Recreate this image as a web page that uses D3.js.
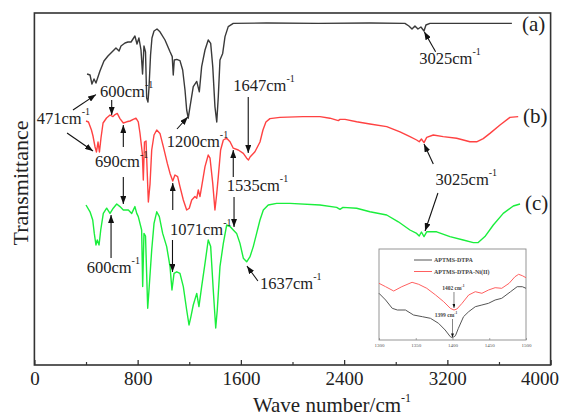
<!DOCTYPE html>
<html lang="en">
<head>
<meta charset="utf-8"/>
<title>FTIR spectra</title>
<script src="https://d3js.org/d3.v7.min.js"></script>
<style>
  body { margin: 0; background: #fff; }
  svg { display: block; font-family: "Liberation Serif", "Times New Roman", serif; }
</style>
</head>
<body>
<div id="chart"></div>
<script>
// wavenumber (cm-1) / transmittance (a.u.)
const xTicks = [0, 800, 1600, 2400, 3200, 4000];
const xMinorTicks = [400, 1200, 2000, 2800, 3600];

const curveA = [
  [408,72.75],[431,72.5],[446,70.25],[462,71.5],[477,70.5],[508,73.5],[539,76],[570,77.25],[601,78.25],
  [632,79.25],[656,78.5],[671,79.75],[702,80.5],[725,80.75],[749,80.75],[764,81.5],[779,82.25],[795,80.25],
  [810,81.75],[826,78.75],[838,72.75],[849,79.75],[861,78.25],[870,66.75],[880,65.75],[888,69.25],[900,77.5],
  [911,81.75],[927,83.5],[950,84],[973,83.3],[1012,81.25],[1051,78.3],[1068,77.1],[1076,72.5],[1084,76.25],
  [1103,76.4],[1128,76.1],[1149,73.75],[1167,68.75],[1180,63.75],[1192,61.7],[1206,64.6],[1231,69.6],
  [1258,70.9],[1278,68.3],[1296,74.6],[1322,78.75],[1347,81.25],[1366,80.4],[1382,74.6],[1399,64.6],
  [1413,60.75],[1425,67.1],[1438,76.25],[1459,77.9],[1477,82.1],[1502,84.6],[1541,85.4],[1800,85.5],
  [2200,85.4],[2600,85.5],[2871,85.4],[2902,84.75],[2926,84],[2949,84.75],[2972,84],[2995,84.5],
  [3019,83.5],[3034,85],[3065,85.4],[3400,85.4],[3700,85.4]
];

const curveB = [
  [400,61],[419,60.75],[442,58.75],[454,57.25],[470,54.5],[481,53.25],[493,55.75],[504,53.25],[516,56.75],
  [532,60.5],[559,61.75],[586,62.5],[609,62.1],[625,62.6],[642,62.9],[663,61.6],[689,60.5],[715,60.8],
  [741,61],[766,61.4],[787,61.7],[805,60.8],[818,58],[836,53],[844,46.25],[853,55.75],[865,56],[883,40.75],
  [896,45.25],[909,53.75],[927,57.5],[948,58.75],[973,57.9],[999,54.6],[1030,50.4],[1051,47.9],[1072,46],
  [1089,47.5],[1110,47.1],[1128,44.6],[1154,41.25],[1180,38.75],[1200,39.2],[1219,41.25],[1244,42.1],
  [1258,41.7],[1270,43.75],[1283,42.1],[1296,44.6],[1322,49.6],[1347,52.5],[1361,51.7],[1382,45.4],
  [1399,38.75],[1413,42.9],[1425,47.1],[1443,53.75],[1464,56.25],[1490,56.7],[1516,55.8],[1541,54.2],
  [1580,53.75],[1619,52.9],[1645,51.7],[1659,51.25],[1671,52],[1709,53.3],[1748,55.75],[1771,58.75],
  [1794,60.75],[1825,61.6],[1903,61.9],[2081,62.1],[2213,62.1],[2290,61.7],[2355,61.1],[2368,61.4],
  [2407,61.4],[2497,60.8],[2600,60.25],[2730,59.6],[2833,58.3],[2910,57.1],[2962,56.25],[2982,55.8],
  [2999,56.5],[3019,55.6],[3040,56.9],[3091,57.5],[3168,57.1],[3272,56.7],[3375,55.8],[3427,55.8],
  [3478,56.6],[3530,57.9],[3608,60],[3685,61.9],[3749,62.1]
];

const curveC = [
  [400,40],[431,38.3],[452,36.25],[464,32.9],[477,30],[487,31.25],[501,30],[514,33.75],[534,37.9],
  [560,39.2],[586,37.9],[611,39.2],[638,40.25],[663,39.6],[689,38.75],[728,38.75],[754,37.9],[779,39.6],
  [793,37.9],[805,37.1],[831,33.75],[839,19.6],[849,32.9],[861,32.25],[878,14.2],[888,18.75],[909,28.75],
  [927,35.4],[948,38.3],[968,37.1],[994,32.9],[1025,29.6],[1051,24.6],[1066,18.75],[1082,22.9],[1103,23.3],
  [1128,22.9],[1154,19.6],[1180,13.75],[1198,10],[1213,12.1],[1231,15],[1258,17.9],[1275,14.6],[1296,19.6],
  [1322,25.4],[1347,31.25],[1366,29.6],[1386,18.75],[1405,9.25],[1417,13.75],[1438,24.6],[1464,30.4],
  [1490,35],[1516,34.6],[1541,33.75],[1567,32.9],[1593,30.4],[1619,26.7],[1645,25.8],[1671,27.1],
  [1696,29.6],[1722,32.9],[1748,36.25],[1774,38.75],[1812,40],[1877,40.4],[1980,40.4],[2213,40],
  [2342,39.4],[2368,38.9],[2391,39.4],[2497,39.2],[2600,38.3],[2730,37.5],[2820,35.8],[2910,33.75],
  [2962,32.9],[2982,32.25],[2999,33.25],[3019,32.1],[3040,33.3],[3117,33.3],[3220,32.1],[3323,31.25],
  [3401,30.6],[3439,30.6],[3491,32.1],[3556,35],[3633,37.9],[3711,39.75],[3763,40.25]
];

const curveLabels = ["(a)", "(b)", "(c)"];
const curveLabelAt = [[3778,83.5],[3786,60.5],[3801,38.75]];

// peak labels: text, anchor (wavenumber, a.u.)
const noteText = ["3025cm", "1647cm", "600cm", "471cm", "690cm", "1200cm", "1535cm", "1071cm", "600cm", "1637cm", "3025cm"];
const noteAt = [[2982,75.25],[1541,68.5],[508,67.1],[18,60.25],[470,49.6],[1025,54.6],[1490,43.4],[1051,32.5],[405,22.9],[1748,19],[3109,45]];

// arrows: [from, to] in (wavenumber, a.u.)
const arrows = [
  [[3109,78.3],[3021,83.3]],
  [[1657,67],[1657,53]],
  [[599,66.25],[599,62.5]],
  [[299,63.75],[477,67.6]],
  [[253,58],[454,53.5]],
  [[689,54.5],[689,60]],
  [[689,47],[689,40.25]],
  [[1105,59],[1188,62]],
  [[1541,47],[1541,53.75]],
  [[1547,42],[1547,34.5]],
  [[1072,38.75],[1072,45.5]],
  [[1070,31.25],[1070,23.25]],
  [[594,26.75],[594,37.5]],
  [[1732,21],[1647,24.75]],
  [[3091,50.25],[3019,55.25]],
  [[3127,43],[3027,33.5]]
];

// inset: 1300-1500 cm-1
const insetTicks = [1300, 1350, 1400, 1450, 1500];
const insetSeries = ["APTMS-DTPA", "APTMS-DTPA-Ni(II)"];
const insetGrey = [
  [1300,23.35],[1309,20],[1318,15.85],[1325,15],[1336,15],[1347,12.5],[1359,11.65],[1370,10.85],[1381,8.35],
  [1390,5],[1397,1.65],[1400,1.15],[1404,2.15],[1408,5.85],[1415,11.65],[1422,14.15],[1431,16.65],
  [1440,17.5],[1449,18.35],[1458,20],[1467,20.85],[1479,24.15],[1488,26.65],[1495,26.65],[1500,25.85]
];
const insetRed = [
  [1300,28.35],[1309,26.65],[1320,24.5],[1331,26.65],[1345,28.85],[1354,27.85],[1365,25.85],[1377,22.5],
  [1388,19.15],[1397,15.85],[1402,15],[1406,15.5],[1413,18.35],[1422,22.5],[1431,24.15],[1440,23.35],
  [1449,25],[1458,26.15],[1467,25.85],[1477,28.35],[1485,31.65],[1490,32.85],[1495,32.15],[1500,31.15]
];
const insetNotes = ["1402 cm", "1399 cm"];
const insetNoteAt = [[1386,24.8],[1376,11.5]];
const insetArrows = [[[1402,24],[1402,16]], [[1400,10.5],[1400,1.3]]];

const width = 563, height = 418;
const margin = {top: 13, right: 12.4, bottom: 53, left: 34.4};

const svg = d3.select("#chart").append("svg")
    .attr("width", width)
    .attr("height", height);

const defs = svg.append("defs");
function marker(id, w, h) {
  defs.append("marker")
      .attr("id", id)
      .attr("viewBox", "0 0 8 6")
      .attr("refX", 8).attr("refY", 3)
      .attr("markerWidth", w).attr("markerHeight", h)
      .attr("markerUnits", "userSpaceOnUse")
      .attr("orient", "auto")
    .append("path")
      .attr("d", "M0,0L8,3L0,6z")
      .attr("fill", "#111");
}
marker("head", 8, 6);
marker("headSmall", 4, 3);

const x = d3.scaleLinear().domain([0, 4000]).range([margin.left, width - margin.right]);
const y = d3.scaleLinear().domain([0, 88]).range([height - margin.bottom, margin.top]);

// axes
const xAxis = svg.append("g")
    .attr("transform", `translate(0,${height - margin.bottom})`)
    .call(d3.axisBottom(x).tickValues(xTicks).tickSize(-5).tickPadding(7).tickFormat(d3.format("d")));
xAxis.select(".domain").remove();
xAxis.selectAll("line").attr("stroke", "#333").attr("stroke-width", 1.3);
xAxis.selectAll("text").attr("font-size", 19).attr("fill", "#222")
    .attr("font-family", "Liberation Serif, Times New Roman, serif");
// last label sits against the picture edge
xAxis.selectAll("text").filter(d => d === 4000).attr("dx", -11);

const xMinor = svg.append("g")
    .attr("transform", `translate(0,${height - margin.bottom})`)
    .call(d3.axisBottom(x).tickValues(xMinorTicks).tickSize(-3).tickFormat(""));
xMinor.select(".domain").remove();
xMinor.selectAll("line").attr("stroke", "#333").attr("stroke-width", 1.2);

svg.append("rect")
    .attr("x", margin.left).attr("y", margin.top)
    .attr("width", width - margin.left - margin.right)
    .attr("height", height - margin.top - margin.bottom)
    .attr("fill", "none").attr("stroke", "#333").attr("stroke-width", 1.6);

svg.append("text")
    .attr("x", 332).attr("y", 412)
    .attr("text-anchor", "middle")
    .attr("font-size", 21).attr("fill", "#222")
    .text("Wave number/cm")
  .append("tspan").attr("dy", -10).attr("font-size", 12).text("-1");

svg.append("text")
    .attr("transform", "translate(28,183) rotate(-90)")
    .attr("text-anchor", "middle")
    .attr("font-size", 22).attr("fill", "#222")
    .text("Transmittance");

// spectra
const line = d3.line().x(d => x(d[0])).y(d => y(d[1]));
[[curveA, "#3a3a3a"], [curveB, "#ff4242"], [curveC, "#1aee3c"]].forEach(([data, color]) => {
  svg.append("path")
      .datum(data)
      .attr("d", line)
      .attr("fill", "none")
      .attr("stroke", color)
      .attr("stroke-width", 1.4)
      .attr("stroke-linejoin", "round");
});

curveLabels.forEach((t, i) => {
  svg.append("text")
      .attr("x", x(curveLabelAt[i][0])).attr("y", y(curveLabelAt[i][1]))
      .attr("font-size", 21).attr("fill", "#222")
      .text(t);
});

// peak annotations
noteText.forEach((t, i) => {
  svg.append("text")
      .attr("x", x(noteAt[i][0])).attr("y", y(noteAt[i][1]))
      .attr("font-size", 16.5).attr("fill", "#222")
      .text(t)
    .append("tspan").attr("dy", -9).attr("font-size", 10).text("-1");
});

arrows.forEach(([a, b]) => {
  svg.append("line")
      .attr("x1", x(a[0])).attr("y1", y(a[1]))
      .attr("x2", x(b[0])).attr("y2", y(b[1]))
      .attr("stroke", "#111").attr("stroke-width", 1.1)
      .attr("marker-end", "url(#head)");
});

// inset
const ix = d3.scaleLinear().domain([1300, 1500]).range([379, 526]);
const iy = d3.scaleLinear().domain([0, 45.5]).range([340, 249]);
const inset = svg.append("g");
inset.append("rect")
    .attr("x", 379).attr("y", 249).attr("width", 147).attr("height", 91)
    .attr("fill", "#fff").attr("stroke", "#8a8a8a").attr("stroke-width", 0.9);

const iAxis = inset.append("g")
    .attr("transform", "translate(0,340)")
    .call(d3.axisBottom(ix).tickValues(insetTicks).tickSize(-2).tickPadding(3).tickFormat(d3.format("d")));
iAxis.select(".domain").remove();
iAxis.selectAll("line").attr("stroke", "#777").attr("stroke-width", 0.6);
iAxis.selectAll("text").attr("font-size", 5).attr("fill", "#555")
    .attr("font-family", "Liberation Serif, Times New Roman, serif");

const iline = d3.line().x(d => ix(d[0])).y(d => iy(d[1]));
[[insetGrey, "#555"], [insetRed, "#ff6060"]].forEach(([data, color]) => {
  inset.append("path")
      .datum(data)
      .attr("d", iline)
      .attr("fill", "none")
      .attr("stroke", color)
      .attr("stroke-width", 1);
});

insetSeries.forEach((name, i) => {
  const ly = 260 + i * 11.5;
  inset.append("line")
      .attr("x1", 414).attr("x2", 432).attr("y1", ly).attr("y2", ly)
      .attr("stroke", i ? "#ff6060" : "#555").attr("stroke-width", 1);
  inset.append("text")
      .attr("x", 434).attr("y", ly + 2)
      .attr("font-size", 6).attr("font-weight", "bold").attr("fill", "#444")
      .text(name);
});

insetNotes.forEach((t, i) => {
  inset.append("text")
      .attr("x", ix(insetNoteAt[i][0])).attr("y", iy(insetNoteAt[i][1]))
      .attr("font-size", 5.5).attr("font-weight", "bold").attr("fill", "#444")
      .text(t)
    .append("tspan").attr("dy", -3).attr("font-size", 3.5).text("-1");
});

insetArrows.forEach(([a, b]) => {
  inset.append("line")
      .attr("x1", ix(a[0])).attr("y1", iy(a[1]))
      .attr("x2", ix(b[0])).attr("y2", iy(b[1]))
      .attr("stroke", "#333").attr("stroke-width", 0.6)
      .attr("marker-end", "url(#headSmall)");
});
</script>
</body>
</html>
